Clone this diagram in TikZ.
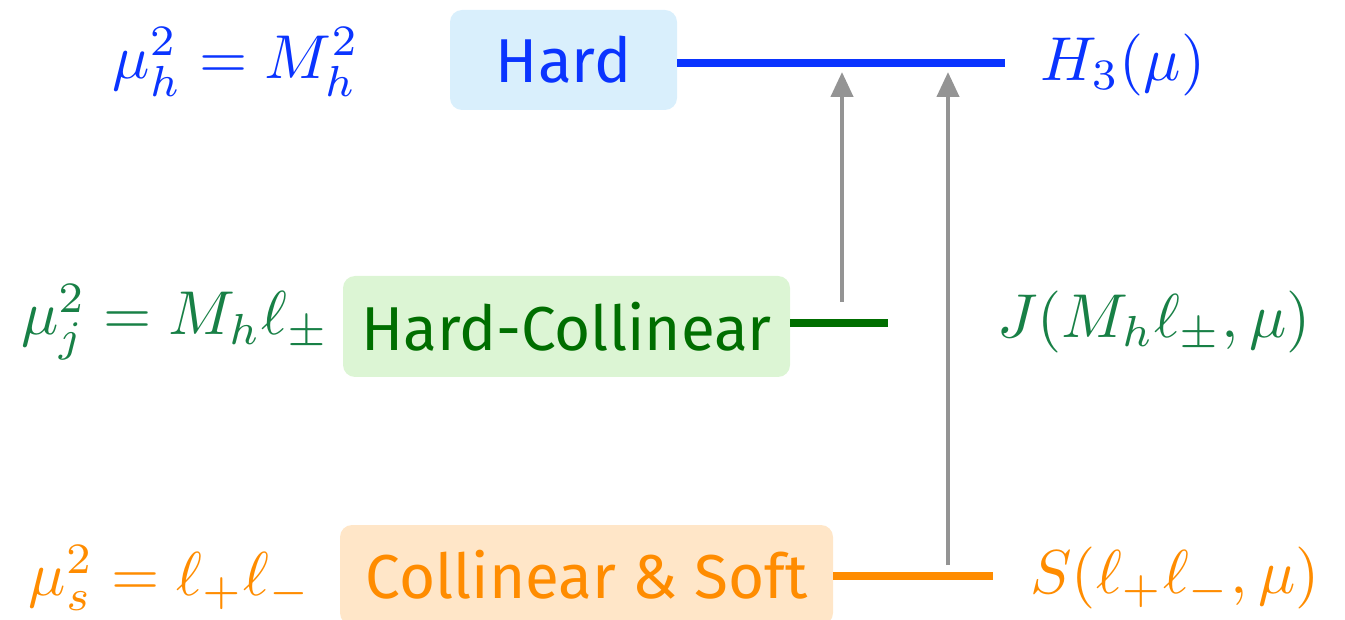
\documentclass[tikz,border=0pt]{standalone}
\usepackage{fontspec}
\newfontfamily\boxfont{Fira Sans}
\usetikzlibrary{arrows.meta}

\definecolor{hardblue}{RGB}{10,52,255}
\definecolor{hardfill}{RGB}{217,239,252}
\definecolor{hcgreen}{RGB}{0,110,0}
\definecolor{hcmath}{RGB}{24,128,70}
\definecolor{hcfill}{RGB}{220,245,212}
\definecolor{csorange}{RGB}{255,140,0}
\definecolor{csfill}{RGB}{255,230,200}
\definecolor{arrgray}{RGB}{148,148,148}

\newcommand{\bigmath}[1]{\scalebox{3.1}{$#1$}}

\tikzset{
  scalebox/.style={rounded corners=6pt, inner sep=0pt, font=\boxfont\fontsize{31}{36}\selectfont},
  scaleline/.style={line width=4pt},
  runarrow/.style={arrgray, line width=2.1pt, -{Triangle[width=11pt,length=12.5pt]}},
  mathlabel/.style={inner sep=0pt}
}

\begin{document}
\begin{tikzpicture}[x=0.5pt, y=-0.5pt]
\useasboundingbox (0,0) rectangle (1345,620);

% scale boxes
\node[scalebox, fill=hardfill, text=hardblue, minimum width=113.5pt, minimum height=50pt]
  (hard) at (563.5,60) {Hard};
\node[scalebox, fill=hcfill, text=hcgreen, minimum width=223.5pt, minimum height=50.5pt]
  (hc) at (566.5,326.5) {Hard-Collinear};
\node[scalebox, fill=csfill, text=csorange, minimum width=246.5pt, minimum height=50pt]
  (cs) at (586.5,575) {Collinear \& Soft};

% scale lines
\coordinate (hEnd) at (1005,63);
\coordinate (jEnd) at (888,323);
\coordinate (sEnd) at (993,576);
\draw[scaleline, hardblue] (hard.east |- hEnd) -- (hEnd);
\draw[scaleline, hcgreen] (hc.east |- jEnd) -- (jEnd);
\draw[scaleline, csorange] (cs.east |- sEnd) -- (sEnd);

% running arrows
\coordinate (a1s) at (842,302);
\coordinate (a1e) at (842,72);
\coordinate (a2s) at (948,565);
\coordinate (a2e) at (948,72);
\draw[runarrow] (a1s) -- (a1e);
\draw[runarrow] (a2s) -- (a2e);

% scale choices
\node[mathlabel, text=hardblue, anchor=center] (muh) at (236,62) {\bigmath{\mu_h^2 = M_h^2}};
\node[mathlabel, text=hcmath, anchor=center] (muj) at (175,322) {\bigmath{\mu_j^2 = M_h\ell_\pm}};
\node[mathlabel, text=csorange, anchor=center] (mus) at (170,578) {\bigmath{\mu_s^2 = \ell_+\ell_-}};

% functions
\node[mathlabel, text=hardblue, anchor=west] (H3) at (1040,65) {\bigmath{H_3(\mu)}};
\node[mathlabel, text=hcmath, anchor=west] (J) at (997,322) {\bigmath{J(M_h\ell_\pm,\mu)}};
\node[mathlabel, text=csorange, anchor=west] (S) at (1030,578) {\bigmath{S(\ell_+\ell_-,\mu)}};
\end{tikzpicture}
\end{document}
